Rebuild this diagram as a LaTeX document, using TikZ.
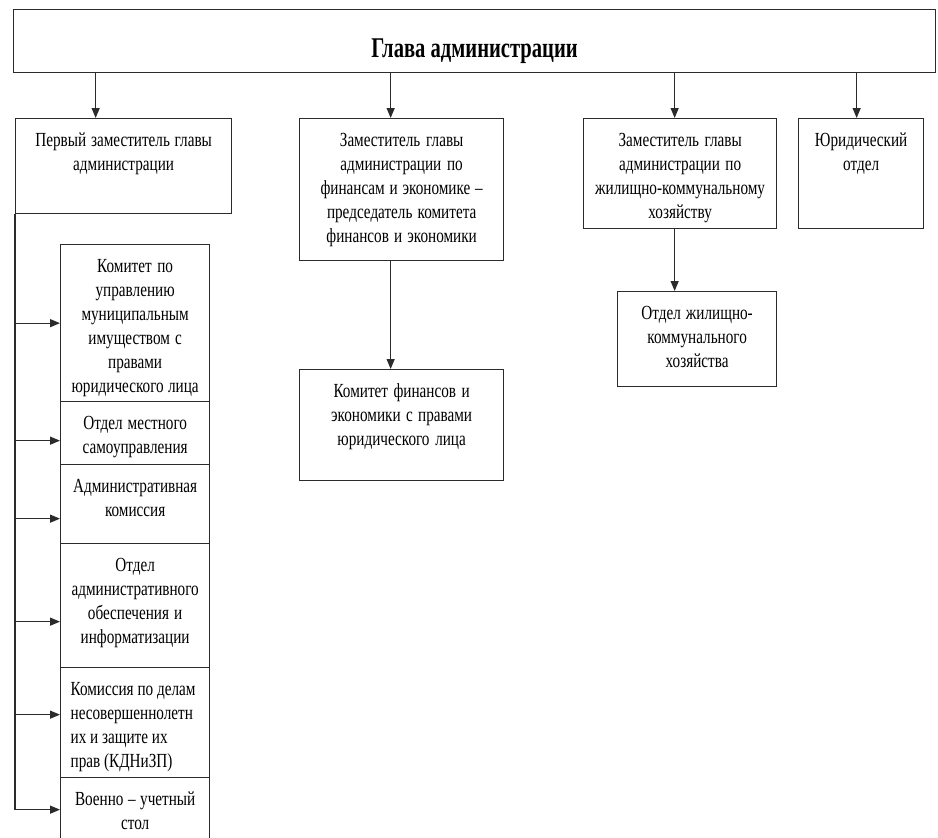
\documentclass[tikz,border=0pt]{standalone}
\usepackage{fontspec}
\setmainfont[FakeStretch=0.76]{Liberation Serif}
\newfontfamily\headfont[FakeStretch=0.72]{Liberation Serif}
\usetikzlibrary{positioning, arrows.meta, calc}
\definecolor{cLine}{HTML}{2B2B2B}
\newcommand{\lline}[1]{\makebox[64.5pt][l]{#1}}

\begin{document}
\begin{tikzpicture}[x=0.5pt, y=-0.5pt,
    box/.style={draw=cLine, line width=0.65pt, anchor=north west, align=center,
                inner xsep=0pt, inner ysep=0pt, text height=14pt,
                font=\fontsize{10}{12}\selectfont,
                execute at begin node={\spaceskip=1.9pt plus 1pt\relax}},
    arr/.style={-{Triangle[length=5pt, width=4pt]}, line width=0.65pt, draw=cLine}]
  \useasboundingbox (0,0) rectangle (938,837);
  % head of the administration
  \node[box, text width=461pt, text height=24pt, text depth=7.5pt,
        font=\headfont\bfseries\fontsize{14.3}{16}\selectfont]
        (head) at (13,9) {\spaceskip=2.6pt Глава администрации};
  % deputies and the legal department
  \node[box, text width=108pt, text depth=33.5pt] (d1) at (15,118)
        {Первый заместитель главы\\администрации};
  \node[box, text width=102pt, text depth=57pt] (d2) at (299,118)
        {Заместитель главы\\администрации по\\финансам и экономике –\\председатель комитета\\финансов и экономики};
  \node[box, text width=96.5pt, text depth=41pt] (d3) at (583,118)
        {Заместитель главы\\администрации по\\жилищно-коммунальному\\хозяйству};
  \node[box, text width=62.5pt, text depth=41pt] (jur) at (798,118)
        {Юридический\\отдел};
  \node[box, text width=102pt, text depth=41.5pt] (fin) at (299,369)
        {Комитет финансов и\\экономики с правами\\юридического лица};
  \node[box, text width=79.5pt, text depth=33.5pt] (zhkh) at (617,291)
        {Отдел жилищно-\\коммунального\\хозяйства};
  % units under the first deputy
  \node[box, text width=74.5pt, text depth=64.5pt] (s1) at (60,244)
        {Комитет по\\управлению\\муниципальным\\имуществом с\\правами\\юридического лица};
  \node[box, text width=74.5pt, text depth=17.5pt] (s2) at (60,401)
        {Отдел местного\\самоуправления};
  \node[box, text width=74.5pt, text depth=25.5pt] (s3) at (60,464)
        {Административная\\комиссия};
  \node[box, text width=74.5pt, text depth=48pt] (s4) at (60,543)
        {Отдел\\административного\\обеспечения и\\информатизации};
  \node[box, text width=74.5pt, text depth=41pt] (s5) at (60,667)
        {\lline{Комиссия по делам}\\\lline{несовершеннолетн}\\\lline{их и защите их}\\\lline{прав (КДНиЗП)}};
  \node[box, text width=74.5pt, text depth=18pt] (s6) at (60,777)
        {Военно – учетный\\стол};
  % connectors
  \foreach \n/\dx in {d1/-28, d2/-11, d3/-5.5, jur/-4.5}{
    \coordinate (t\n) at ($(\n.north)+(\dx,0)$);
    \draw[arr] (head.south -| t\n) -- (t\n);
  }
  \coordinate (tfin) at ($(fin.north)+(-11,0)$);
  \draw[arr] (d2.south -| tfin) -- (tfin);
  \coordinate (tzhkh) at ($(zhkh.north)+(-22.5,0)$);
  \draw[arr] (d3.south -| tzhkh) -- (tzhkh);
  \foreach \n/\dy in {s1/0, s2/7.5, s3/14.5, s4/16, s5/-8, s6/0}{
    \coordinate (e\n) at ($(\n.west)+(0,\dy)$);
    \draw[arr] (d1.west |- e\n) -- (e\n);
  }
  \draw[draw=cLine, line width=0.65pt] (d1.south west) -- (d1.west |- es6);
\end{tikzpicture}
\end{document}
